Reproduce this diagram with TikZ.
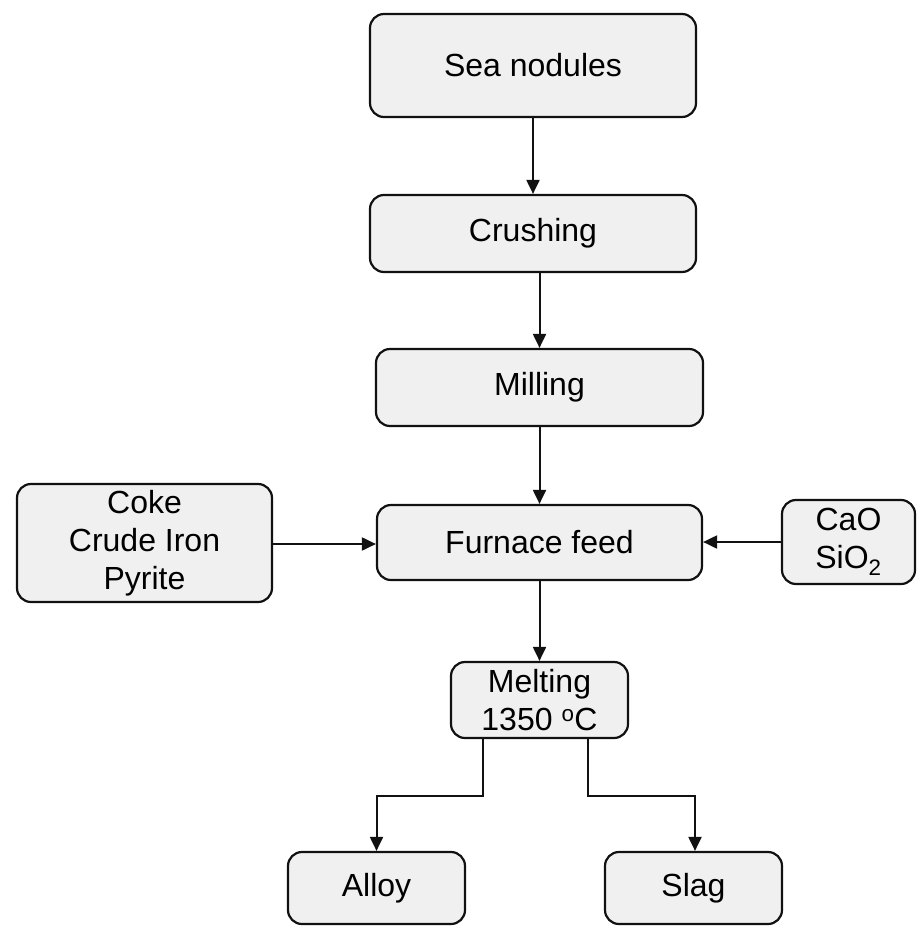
\documentclass[tikz,border=0pt]{standalone}
\usepackage{fontspec}
\setmainfont{Liberation Sans}
\usetikzlibrary{arrows.meta}
\definecolor{boxfill}{HTML}{F0F0F0}
\definecolor{linec}{HTML}{111111}
\begin{document}
\begin{tikzpicture}[x=1pt,y=-1pt,
  box/.style={draw=linec, fill=boxfill, line width=2.2pt, rounded corners=14pt,
    align=center, inner sep=0pt, font=\fontsize{32}{38}\selectfont},
  arr/.style={draw=linec, line width=2pt, -{Triangle[length=14pt,width=13pt]}}]
\useasboundingbox (0,0) rectangle (918,926);
\node[box, minimum width=326pt, minimum height=103pt] (sea) at (533,65.5) {Sea nodules};
\node[box, minimum width=326pt, minimum height=77pt] (crush) at (533,233.5) {Crushing};
\node[box, minimum width=327pt, minimum height=77pt] (mill) at (539.5,387.5) {Milling};
\node[box, minimum width=325pt, minimum height=75pt] (feed) at (539.5,542.5) {Furnace feed};
\node[box, minimum width=255pt, minimum height=118pt] (coke) at (144.5,543) {Coke\\Crude Iron\\Pyrite};
\node[box, minimum width=133pt, minimum height=84pt] (cao) at (848.5,542) {CaO\\SiO\textsubscript{2}};
\node[box, minimum width=177pt, minimum height=76pt] (melt) at (539.5,700) {Melting\\1350 \textsuperscript{o}C};
\node[box, minimum width=177pt, minimum height=72pt] (alloy) at (376.5,888) {Alloy};
\node[box, minimum width=177pt, minimum height=72pt] (slag) at (693.5,888) {Slag};
\draw[arr] (sea) -- (crush);
\draw[arr] (crush.south -| mill.north) -- (mill.north);
\draw[arr] (mill) -- (feed);
\draw[arr] (feed) -- (melt);
\draw[arr] (coke.east |- 0,544) -- (feed.west |- 0,544);
\draw[arr] (cao.west) -- (cao.west -| feed.east);
\draw[arr] ([xshift=-56.5pt]melt.south) |- ++(0,57) -| (alloy.north);
\draw[arr] ([xshift=48.5pt]melt.south) |- ++(0,57) -| ([xshift=1.5pt]slag.north);
\end{tikzpicture}
\end{document}
